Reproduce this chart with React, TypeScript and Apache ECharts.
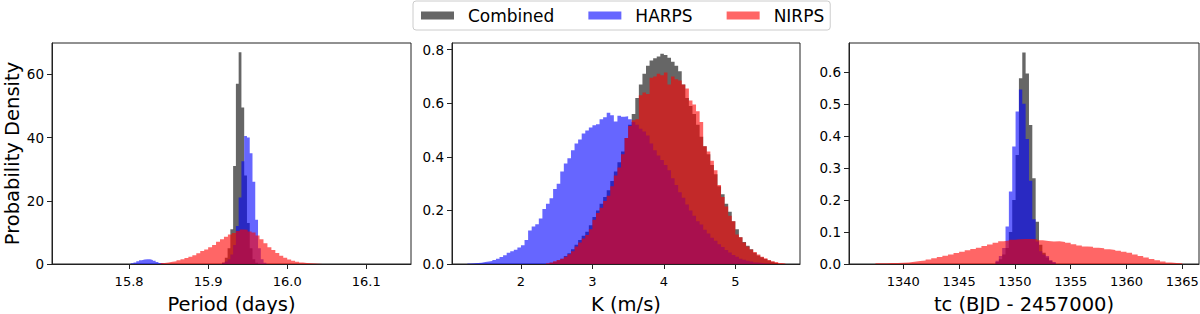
import React, { useEffect, useRef } from "react";
import * as echarts from "echarts";

// ---------- Panel 1: Period (days) ----------
const periodTicks = [15.8, 15.9, 16.0, 16.1];
const periodYTicks = [0, 20, 40, 60];
const periodBinWidth = 0.0035;
const periodCombinedStart = 15.9176;
const periodCombined = [0.5, 2, 5, 11, 31, 57, 67, 49.5, 28, 13, 5, 1.5, 0.4];
const periodHarpsStart = 15.8021;
const periodHarps = [
  0.2, 0.5, 0.9, 1.2, 1.4, 1.5, 1.5, 1.3, 1.0, 0.6, 0.3, 0.1,
  0, 0, 0, 0, 0, 0, 0, 0, 0, 0, 0, 0, 0, 0, 0, 0, 0, 0, 0, 0, 0,
  0.3, 0.8, 1.5, 3, 6, 12, 21, 32.5, 40.5, 40, 35, 26, 14, 5, 1.5, 0.4,
];
const periodNirpsBinWidth = 0.005;
const periodNirpsStart = 15.84;
const periodNirps = [
  0.3, 0.5, 0.7, 0.9, 1.2, 1.5, 1.9, 2.3, 2.8, 3.4, 4.1, 4.6, 5.3, 6.0, 7.0, 7.8,
  8.6, 9.3, 9.8, 10.4, 10.9, 10.8, 10.3, 10.0, 9.0, 7.8, 6.6, 5.3, 4.4, 3.5, 2.6,
  2.0, 1.4, 1.0, 0.7, 0.45, 0.3, 0.2, 0.12, 0.06, 0.03,
];

// ---------- Panel 2: K (m/s) ----------
const kTicks = [2, 3, 4, 5];
const kYTicks = [0, 0.2, 0.4, 0.6, 0.8];
const kBinWidth = 0.05;
const kCombinedStart = 2.4;
const kCombined = [
  0.005, 0.008, 0.014, 0.02, 0.03, 0.04, 0.055, 0.072, 0.09, 0.105, 0.12, 0.145,
  0.175, 0.2, 0.225, 0.25, 0.275, 0.31, 0.345, 0.38, 0.42, 0.47, 0.52, 0.56, 0.62,
  0.67, 0.71, 0.74, 0.76, 0.768, 0.775, 0.785, 0.78, 0.77, 0.755, 0.74, 0.72, 0.67,
  0.62, 0.59, 0.56, 0.52, 0.475, 0.44, 0.41, 0.37, 0.335, 0.29, 0.26, 0.225, 0.195,
  0.16, 0.13, 0.1, 0.082, 0.068, 0.055, 0.042, 0.032, 0.025, 0.019, 0.013, 0.008,
  0.004,
];
const kHarpsStart = 1.25;
const kHarps = [
  0.002, 0.003, 0.004, 0.005, 0.007, 0.009, 0.011, 0.015, 0.02, 0.026, 0.033,
  0.042, 0.048, 0.053, 0.062, 0.07, 0.09, 0.125, 0.14, 0.148, 0.17, 0.205, 0.225,
  0.245, 0.28, 0.3, 0.345, 0.375, 0.395, 0.425, 0.45, 0.465, 0.487, 0.498, 0.51,
  0.518, 0.522, 0.54, 0.548, 0.565, 0.555, 0.532, 0.553, 0.55, 0.552, 0.54, 0.53,
  0.52, 0.505, 0.495, 0.48, 0.45, 0.425, 0.405, 0.388, 0.37, 0.35, 0.32, 0.295,
  0.268, 0.247, 0.222, 0.2, 0.18, 0.16, 0.147, 0.128, 0.114, 0.098, 0.087, 0.074,
  0.063, 0.052, 0.043, 0.034, 0.027, 0.02, 0.016, 0.012, 0.009, 0.006, 0.005,
  0.003, 0.002, 0.001,
];
const kNirpsStart = 2.35;
const kNirps = [
  0.003, 0.006, 0.01, 0.015, 0.02, 0.027, 0.036, 0.048, 0.065, 0.08, 0.095, 0.108,
  0.13, 0.165, 0.19, 0.21, 0.235, 0.255, 0.29, 0.33, 0.36, 0.41, 0.47, 0.515, 0.537,
  0.54, 0.63, 0.64, 0.635, 0.695, 0.7, 0.71, 0.705, 0.715, 0.67, 0.7, 0.69, 0.685,
  0.67, 0.655, 0.61, 0.595, 0.57, 0.53, 0.44, 0.42, 0.385, 0.35, 0.295, 0.25, 0.215,
  0.18, 0.16, 0.11, 0.1, 0.08, 0.065, 0.054, 0.045, 0.035, 0.027, 0.021, 0.015,
  0.01, 0.007, 0.004, 0.002,
];

// ---------- Panel 3: tc (BJD - 2457000) ----------
const tcTicks = [1340, 1345, 1350, 1355, 1360, 1365];
const tcYTicks = [0, 0.1, 0.2, 0.3, 0.4, 0.5, 0.6];
const tcBinWidth = 0.3;
const tcCombinedStart = 1348.26;
const tcCombined = [
  0.006, 0.015, 0.03, 0.05, 0.1, 0.2, 0.34, 0.58, 0.66, 0.595, 0.434, 0.268, 0.132,
  0.06, 0.035, 0.02, 0.01, 0.004,
];
const tcHarpsStart = 1348.26;
const tcHarps = [
  0.01, 0.025, 0.05, 0.117, 0.226, 0.367, 0.476, 0.545, 0.5, 0.39, 0.26, 0.14, 0.07,
  0.04, 0.03, 0.025, 0.012, 0.006,
];
const tcNirpsBinWidth = 0.5;
const tcNirpsStart = 1337.5;
const tcNirps = [
  0.002, 0.002, 0.003, 0.003, 0.004, 0.005, 0.007, 0.009, 0.011, 0.014, 0.018,
  0.022, 0.026, 0.03, 0.034, 0.038, 0.043, 0.047, 0.051, 0.056, 0.061, 0.066, 0.071,
  0.073, 0.076, 0.077, 0.078, 0.078, 0.077, 0.074, 0.072, 0.07, 0.071, 0.069, 0.066,
  0.062, 0.058, 0.055, 0.054, 0.051, 0.049, 0.046, 0.044, 0.041, 0.038, 0.035, 0.03,
  0.025, 0.02, 0.016, 0.012, 0.008, 0.005, 0.003, 0.002,
];

const seriesNames = ["Combined", "HARPS", "NIRPS"];
const seriesColors = ["rgba(0,0,0,0.6)", "rgba(0,0,255,0.6)", "rgba(255,0,0,0.6)"];
const FONT = "DejaVu Sans";

function steps(start: number, width: number, values: number[]) {
  const pts: number[][] = values.map((v, i) => [start + i * width, v]);
  pts.push([start + values.length * width, 0]);
  return pts;
}

function histSeries(idx: number, k: number, data: number[][]) {
  return {
    type: "line",
    name: seriesNames[k],
    xAxisIndex: idx,
    yAxisIndex: idx,
    data,
    step: "end",
    symbol: "none",
    showSymbol: false,
    silent: true,
    z: 2 + k,
    lineStyle: { width: 0, opacity: 0 },
    itemStyle: { color: seriesColors[k] },
    areaStyle: { color: seriesColors[k], opacity: 1 },
    emphasis: { disabled: true },
  };
}

function xAxisCfg(idx: number, min: number, max: number, ticks: number[], name: string, fmt: (v: number) => string) {
  return {
    type: "value",
    gridIndex: idx,
    min,
    max,
    name,
    nameLocation: "middle",
    nameGap: 30,
    nameTextStyle: { fontFamily: FONT, fontSize: 19.5, color: "#000" },
    axisLine: { show: true, onZero: false, lineStyle: { color: "#222", width: 1 } },
    axisTick: { show: true, inside: false, length: 5, customValues: ticks, lineStyle: { color: "#222" } },
    axisLabel: { customValues: ticks, formatter: fmt, fontFamily: FONT, fontSize: 13, color: "#000", margin: 11 },
    splitLine: { show: false },
  };
}

function yAxisCfg(idx: number, max: number, ticks: number[], fmt: (v: number) => string, name?: string) {
  return {
    type: "value",
    gridIndex: idx,
    min: 0,
    max,
    name: name || "",
    nameLocation: "middle",
    nameGap: 30,
    nameRotate: 90,
    nameTextStyle: { fontFamily: FONT, fontSize: 19.5, color: "#000" },
    axisLine: { show: true, lineStyle: { color: "#222", width: 1 } },
    axisTick: { show: true, inside: false, length: 5, customValues: ticks, lineStyle: { color: "#222" } },
    axisLabel: { customValues: ticks, formatter: fmt, fontFamily: FONT, fontSize: 13.5, color: "#000", margin: 8 },
    splitLine: { show: false },
  };
}

export default function App() {
  const ref = useRef<HTMLDivElement>(null);
  useEffect(() => {
    if (!ref.current) return;
    const chart = echarts.init(ref.current, null, { renderer: "svg" });
    const f1 = (v: number) => v.toFixed(1);
    const f0 = (v: number) => String(Math.round(v));
    const grids = [
      { left: 52, top: 43, width: 359, height: 221 },
      { left: 452, top: 43, width: 348, height: 221 },
      { left: 849, top: 43, width: 350, height: 221 },
    ].map((g) => ({
      ...g,
      show: true,
      borderColor: "#222",
      borderWidth: 1,
      backgroundColor: "transparent",
      containLabel: false,
      outerBoundsMode: "none",
    }));

    const series = [
      histSeries(0, 0, steps(periodCombinedStart, periodBinWidth, periodCombined)),
      histSeries(0, 1, steps(periodHarpsStart, periodBinWidth, periodHarps)),
      histSeries(0, 2, steps(periodNirpsStart, periodNirpsBinWidth, periodNirps)),
      histSeries(1, 0, steps(kCombinedStart, kBinWidth, kCombined)),
      histSeries(1, 1, steps(kHarpsStart, kBinWidth, kHarps)),
      histSeries(1, 2, steps(kNirpsStart, kBinWidth, kNirps)),
      histSeries(2, 0, steps(tcCombinedStart, tcBinWidth, tcCombined)),
      histSeries(2, 1, steps(tcHarpsStart, tcBinWidth, tcHarps)),
      histSeries(2, 2, steps(tcNirpsStart, tcNirpsBinWidth, tcNirps)),
    ];

    chart.setOption({
      animation: false,
      backgroundColor: "#fff",
      textStyle: { fontFamily: FONT },
      legend: {
        data: seriesNames,
        left: 413,
        top: 1,
        orient: "horizontal",
        icon: "rect",
        itemWidth: 33,
        itemHeight: 8,
        itemGap: 34,
        padding: [6, 6, 6, 8],
        borderColor: "#cccccc",
        borderWidth: 1,
        borderRadius: 3,
        selectedMode: false,
        textStyle: { fontFamily: FONT, fontSize: 17, color: "#000", padding: [0, 0, 0, 9] },
      },
      grid: grids,
      xAxis: [
        xAxisCfg(0, 15.7025, 16.1566, periodTicks, "Period (days)", f1),
        xAxisCfg(1, 1.035, 5.905, kTicks, "K (m/s)", f0),
        xAxisCfg(2, 1335.13, 1366.5, tcTicks, "tc (BJD - 2457000)", f0),
      ],
      yAxis: [
        yAxisCfg(0, 69.9, periodYTicks, f0, "Probability Density"),
        yAxisCfg(1, 0.825, kYTicks, f1),
        yAxisCfg(2, 0.69, tcYTicks, f1),
      ],
      series,
    });
    return () => chart.dispose();
  }, []);
  return <div ref={ref} style={{ position: "absolute", left: 0, top: 0, width: 1200, height: 314 }} />;
}
